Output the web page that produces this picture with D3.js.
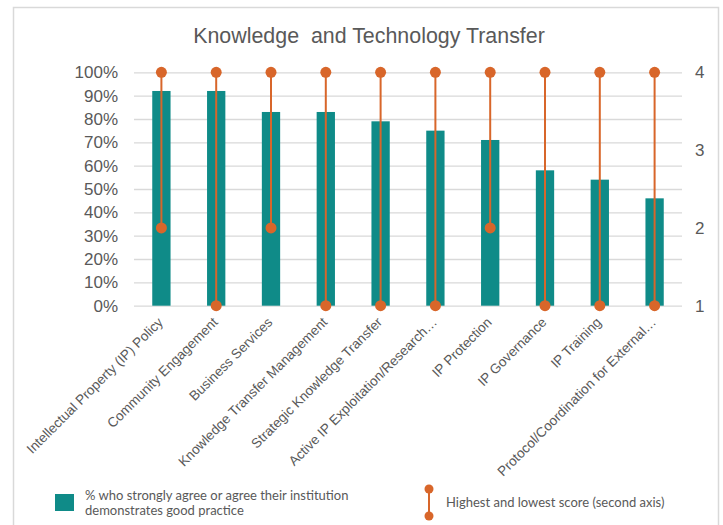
<!DOCTYPE html>
<html>
<head>
<meta charset="utf-8">
<script src="https://cdn.jsdelivr.net/npm/d3@7"></script>
<style>
  html, body { margin: 0; padding: 0; background: #ffffff; }
  svg { display: block; }
  text { font-family: "Liberation Sans", Arial, sans-serif; fill: #595959; }
  .legend-text text { font-family: Lato, "Open Sans", sans-serif; }
</style>
</head>
<body>
<svg id="chart" width="723" height="525"></svg>
<script>
// Knowledge and technology transfer: share agreeing (bars, left axis)
// plus highest/lowest score range (orange stems, right axis)
const categories = [
  "Intellectual Property (IP) Policy",
  "Community Engagement",
  "Business Services",
  "Knowledge Transfer Management",
  "Strategic Knowledge Transfer",
  "Active IP Exploitation/Research…",
  "IP Protection",
  "IP Governance",
  "IP Training",
  "Protocol/Coordination for External…"
];
const agreePct  = [92, 92, 83, 83, 79, 75, 71, 58, 54, 46];
const highScore = [4, 4, 4, 4, 4, 4, 4, 4, 4, 4];
const lowScore  = [2, 1, 2, 1, 1, 1, 2, 1, 1, 1];
const pctTicks   = [0, 10, 20, 30, 40, 50, 60, 70, 80, 90, 100];
const scoreTicks = [1, 2, 3, 4];

const TEAL = "#0f8b88";
const ORANGE = "#d8662a";
const GRID = "#d9d9d9";

const svg = d3.select("#chart");

const plot = { left: 134, right: 682, top: 72.3, bottom: 305.7 };

const x = d3.scaleBand()
  .domain(categories)
  .range([plot.left, plot.right])
  .paddingInner(0.666)
  .paddingOuter(0.333);
const yPct = d3.scaleLinear().domain([0, 100]).range([plot.bottom, plot.top]);
const yScore = d3.scaleLinear().domain([1, 4]).range([plot.bottom, plot.top]);
const cx = d => x(d) + x.bandwidth() / 2;

// outer frame
svg.append("rect")
  .attr("x", 13.5).attr("y", 7.5)
  .attr("width", 705).attr("height", 540)
  .attr("fill", "none").attr("stroke", GRID).attr("stroke-width", 1.5);

// title
svg.append("text")
  .attr("x", 369).attr("y", 43)
  .attr("text-anchor", "middle")
  .style("font-size", "21.4px")
  .attr("xml:space", "preserve")
  .text("Knowledge  and Technology Transfer");

// left axis with gridlines
const leftAxis = svg.append("g")
  .attr("transform", `translate(${plot.left},0)`)
  .call(d3.axisLeft(yPct).tickValues(pctTicks)
    .tickFormat(d => d + "%")
    .tickSize(-(plot.right - plot.left)).tickPadding(16));
leftAxis.select(".domain").remove();
leftAxis.selectAll(".tick line").attr("stroke", GRID).attr("stroke-width", 1.3);
leftAxis.selectAll(".tick text")
  .attr("fill", "#595959")
  .style("font-size", "17px")
  .style("font-family", "'Liberation Sans', Arial, sans-serif");

// right axis (scores)
const rightAxis = svg.append("g")
  .attr("transform", `translate(${plot.right},0)`)
  .call(d3.axisRight(yScore).tickValues(scoreTicks)
    .tickFormat(d3.format("d")).tickSize(0).tickPadding(13));
rightAxis.select(".domain").remove();
rightAxis.selectAll(".tick text")
  .attr("fill", "#595959")
  .style("font-size", "17px")
  .style("font-family", "'Liberation Sans', Arial, sans-serif");

// bars
svg.append("g").selectAll("rect")
  .data(categories)
  .join("rect")
  .attr("x", d => x(d))
  .attr("width", x.bandwidth())
  .attr("y", (d, i) => yPct(agreePct[i]))
  .attr("height", (d, i) => yPct(0) - yPct(agreePct[i]))
  .attr("fill", TEAL);

// high-low stems on the second axis
const stems = svg.append("g").selectAll("g")
  .data(categories)
  .join("g");
stems.append("line")
  .attr("x1", cx).attr("x2", cx)
  .attr("y1", (d, i) => yScore(highScore[i]))
  .attr("y2", (d, i) => yScore(lowScore[i]))
  .attr("stroke", ORANGE).attr("stroke-width", 2);
stems.append("circle")
  .attr("cx", cx).attr("cy", (d, i) => yScore(highScore[i]))
  .attr("r", 5.5).attr("fill", ORANGE);
stems.append("circle")
  .attr("cx", cx).attr("cy", (d, i) => yScore(lowScore[i]))
  .attr("r", 5.5).attr("fill", ORANGE);

// rotated category labels
svg.append("g").selectAll("text")
  .data(categories)
  .join("text")
  .attr("transform", d => `translate(${cx(d) - 1},${plot.bottom + 14}) rotate(-45)`)
  .attr("text-anchor", "end")
  .attr("dy", "0.35em")
  .style("font-size", "13.6px")
  .text(d => d);

// legend
const legend = svg.append("g").attr("class", "legend-text");
legend.append("rect")
  .attr("x", 55).attr("y", 494).attr("width", 19).attr("height", 17)
  .attr("fill", TEAL);
legend.append("text")
  .attr("x", 85).attr("y", 500)
  .style("font-size", "13px")
  .text("% who strongly agree or agree their institution");
legend.append("text")
  .attr("x", 85).attr("y", 515)
  .style("font-size", "13px")
  .text("demonstrates good practice");

legend.append("line")
  .attr("x1", 429).attr("x2", 429).attr("y1", 489).attr("y2", 516)
  .attr("stroke", ORANGE).attr("stroke-width", 2);
legend.append("circle").attr("cx", 429).attr("cy", 489).attr("r", 4.5).attr("fill", ORANGE);
legend.append("circle").attr("cx", 429).attr("cy", 516).attr("r", 4.5).attr("fill", ORANGE);
legend.append("text")
  .attr("x", 446).attr("y", 507)
  .style("font-size", "13px")
  .text("Highest and lowest score (second axis)");
</script>
</body>
</html>
